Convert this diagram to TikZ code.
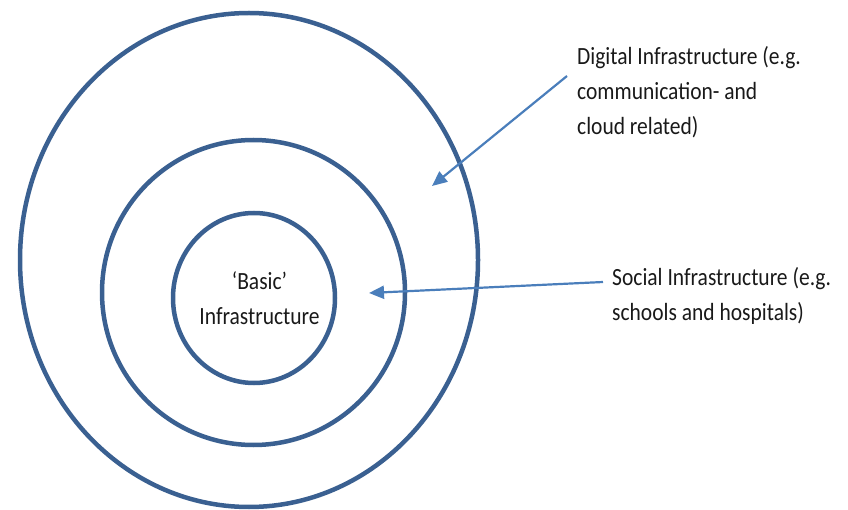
\documentclass[tikz,border=0pt]{standalone}
\usepackage{fontspec}
\setmainfont{Carlito}
\usetikzlibrary{shapes.geometric,arrows.meta}
\definecolor{ringblue}{RGB}{58,96,145}
\definecolor{arrowblue}{RGB}{74,126,187}
\definecolor{txt}{RGB}{25,25,25}
\newcommand{\vst}[1]{\scalebox{1}[1.15]{#1}}
\tikzset{
  ring/.style={ellipse, draw=ringblue, line width=4.5pt, inner sep=0pt},
  lbl/.style={inner sep=0pt, text=txt, font=\fontsize{21.5}{35}\selectfont},
  pointer/.style={draw=arrowblue, line width=2.2pt, -{Triangle[length=15pt,width=13pt]}}
}
\begin{document}
\begin{tikzpicture}[x=1pt,y=-1pt]
\useasboundingbox (0,0) rectangle (848,510);
\node[ring, minimum width=458pt, minimum height=494pt] (outer) at (249,260) {};
\node[ring, minimum width=303pt, minimum height=305pt] (middle) at (253.5,292.5) {};
\node[ring, minimum width=162pt, minimum height=170pt] (inner) at (254,298) {};
\node[lbl, align=center, anchor=base] (basic) at (259.5,325) {\vst{‘Basic’}\\\vst{Infrastructure}};
\node[lbl, align=left, anchor=base west] (digital) at (577,135) {\vst{Digital Infrastructure (e.g.}\\\vst{communication- and}\\\vst{cloud related)}};
\node[lbl, align=left, anchor=base west] (social) at (612,320) {\vst{Social Infrastructure (e.g.}\\\vst{schools and hospitals)}};
\coordinate (dstart) at (567,76);
\coordinate (dtip) at (432,186);
\coordinate (sstart) at (603,282);
\coordinate (stip) at (369,293);
\draw[pointer] (dstart) -- (dtip);
\draw[pointer] (sstart) -- (stip);
\end{tikzpicture}
\end{document}
